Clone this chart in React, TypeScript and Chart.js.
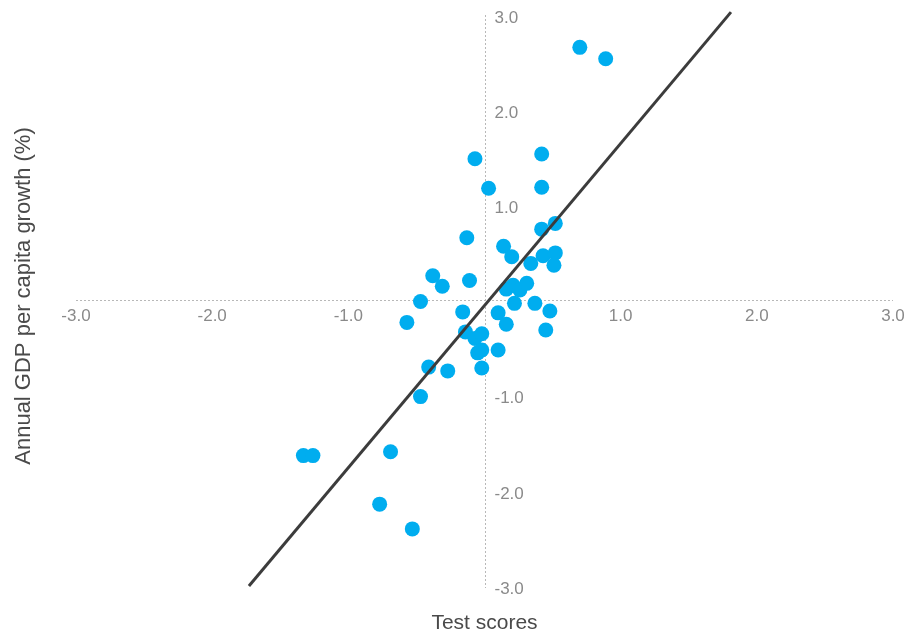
import React, { useEffect, useRef } from "react";
import { Chart, registerables } from "chart.js";

Chart.register(...registerables);

// Country observations: standardised test scores vs. annual GDP per capita growth (%)
const testScores = [
  0.70, 0.89, -0.07, 0.42, 0.03, 0.42, 0.52, 0.42, -0.13, 0.14,
  0.20, 0.34, 0.43, 0.52, 0.51, -0.38, -0.11, -0.31, -0.47, -0.57,
  -0.16, 0.21, 0.16, 0.26, 0.31, 0.22, 0.37, 0.48, 0.10, 0.16,
  -0.14, -0.07, -0.02, 0.45, -0.05, -0.02, 0.10, -0.41, -0.27, -0.02,
  -0.47, -1.33, -1.26, -0.69, -0.77, -0.53,
];
const gdpGrowth = [
  2.66, 2.54, 1.49, 1.54, 1.18, 1.19, 0.81, 0.75, 0.66, 0.57,
  0.46, 0.39, 0.47, 0.50, 0.37, 0.26, 0.21, 0.15, -0.01, -0.23,
  -0.12, 0.16, 0.12, 0.11, 0.18, -0.03, -0.03, -0.11, -0.13, -0.25,
  -0.33, -0.40, -0.35, -0.31, -0.55, -0.52, -0.52, -0.70, -0.74, -0.71,
  -1.01, -1.63, -1.63, -1.59, -2.14, -2.40,
];

// Fitted line end points
const fitX = [-1.73, 1.81];
const fitY = [-3.0, 3.03];

const xTicks = [-3, -2, -1, 1, 2, 3];
const yTicks = [3, 2, 1, -1, -2, -3];
const xTitle = "Test scores";
const yTitle = "Annual GDP per capita growth (%)";

const FONT = '"Liberation Sans", Arial, sans-serif';

const crossAxes = {
  id: "crossAxes",
  beforeDatasetsDraw(chart: any) {
    const { ctx, chartArea, scales } = chart;
    const xs = scales.x;
    const ys = scales.y;
    const x0 = Math.round(xs.getPixelForValue(0)) + 0.5;
    const y0 = Math.floor(ys.getPixelForValue(0)) + 0.5;
    ctx.save();
    ctx.strokeStyle = "#b8b8b8";
    ctx.lineWidth = 1;
    ctx.setLineDash([2, 2]);
    ctx.beginPath();
    ctx.moveTo(chartArea.left, y0);
    ctx.lineTo(chartArea.right, y0);
    ctx.moveTo(x0, chartArea.top);
    ctx.lineTo(x0, chartArea.bottom + 2);
    ctx.stroke();
    ctx.setLineDash([]);

    ctx.fillStyle = "#8a8a8a";
    ctx.font = `17px ${FONT}`;
    ctx.textAlign = "center";
    ctx.textBaseline = "middle";
    xTicks.forEach((v) => {
      ctx.fillText(v.toFixed(1), xs.getPixelForValue(v), y0 + 16);
    });
    ctx.textAlign = "left";
    yTicks.forEach((v) => {
      ctx.fillText(v.toFixed(1), x0 + 9, ys.getPixelForValue(v) + 3);
    });
    ctx.restore();
  },
  afterDraw(chart: any) {
    const { ctx, scales } = chart;
    const x0 = scales.x.getPixelForValue(0);
    ctx.save();
    ctx.fillStyle = "#4a4a4a";
    ctx.font = `21px ${FONT}`;
    ctx.textAlign = "center";
    ctx.textBaseline = "middle";
    ctx.fillText(xTitle, x0, 623);
    ctx.font = `22px ${FONT}`;
    ctx.translate(24, 296);
    ctx.rotate(-Math.PI / 2);
    ctx.fillText(yTitle, 0, 0);
    ctx.restore();
  },
};

export default function App() {
  const canvasRef = useRef<HTMLCanvasElement | null>(null);

  useEffect(() => {
    if (!canvasRef.current) return;
    const chart = new Chart(canvasRef.current, {
      type: "scatter",
      data: {
        datasets: [
          {
            type: "line",
            label: "Fit",
            data: fitX.map((x, i) => ({ x, y: fitY[i] })),
            borderColor: "#3c3c3c",
            borderWidth: 3,
            pointRadius: 0,
            fill: false,
            clip: false,
            order: 0,
          } as any,
          {
            type: "scatter",
            label: "Countries",
            data: testScores.map((x, i) => ({ x, y: gdpGrowth[i] })),
            backgroundColor: "#00adef",
            borderWidth: 0,
            pointRadius: 7.5,
            pointHoverRadius: 7.5,
            order: 1,
          },
        ],
      },
      options: {
        animation: false,
        responsive: false,
        maintainAspectRatio: false,
        layout: { padding: { left: 76, right: 11, top: 15, bottom: 49 } },
        plugins: {
          legend: { display: false },
          tooltip: { enabled: false },
        },
        scales: {
          x: { type: "linear", min: -3, max: 3, display: false },
          y: { type: "linear", min: -3, max: 3, display: false },
        },
      },
      plugins: [crossAxes],
    });
    return () => chart.destroy();
  }, []);

  return (
    <div style={{ position: "fixed", left: 0, top: 0, width: 904, height: 635, background: "#fff" }}>
      <canvas ref={canvasRef} width={904} height={635} style={{ width: 904, height: 635 }} />
    </div>
  );
}
